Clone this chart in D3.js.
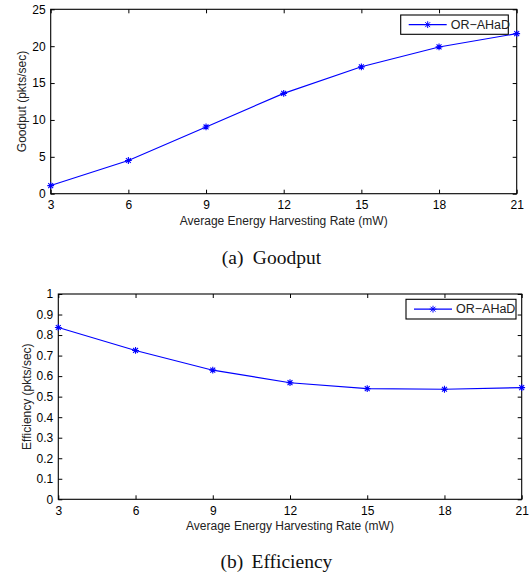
<!DOCTYPE html>
<html>
<head>
<meta charset="utf-8">
<script src="https://cdn.jsdelivr.net/npm/d3@7"></script>
<style>
  html, body { margin: 0; padding: 0; background: #fff; }
  svg { display: block; }
  .tick text { font-family: "Liberation Sans", Arial, sans-serif; font-size: 12px; fill: #000; }
  .lbl { font-family: "Liberation Sans", Arial, sans-serif; font-size: 12px; fill: #222; }
  .cap { font-family: "Liberation Serif", "Times New Roman", serif; font-size: 19.5px; fill: #111; }
</style>
</head>
<body>
<svg id="chart" width="531" height="574"></svg>
<script>
// energy harvesting rates (mW)
const rates = [3, 6, 9, 12, 15, 18, 21];
const xTicks = [3, 6, 9, 12, 15, 18, 21];

// OR-AHaD results
const goodput = [1.1, 4.5, 9.05, 13.6, 17.2, 19.9, 21.7];
const efficiency = [0.837, 0.725, 0.629, 0.568, 0.539, 0.536, 0.544];

const goodputTicks = [0, 5, 10, 15, 20, 25];
const efficiencyTicks = [0, 0.1, 0.2, 0.3, 0.4, 0.5, 0.6, 0.7, 0.8, 0.9, 1];

const seriesName = "OR\u2212AHaD";
const blue = "#0000ff";

const svg = d3.select("#chart");

// 8-armed star like matlab's '*'
function star(r) {
  const d = r * 0.72;
  return `M0,${-r}V${r}M${-r},0H${r}M${-d},${-d}L${d},${d}M${-d},${d}L${d},${-d}`;
}

function drawPanel(p) {
  const x = d3.scaleLinear().domain([3, 21]).range([p.left, p.right]);
  const y = d3.scaleLinear().domain(p.yDomain).range([p.bottom, p.top]);
  const g = svg.append("g");

  // ticks inward on all four sides
  g.append("g")
    .attr("transform", `translate(0,${p.bottom})`)
    .call(d3.axisBottom(x).tickValues(xTicks).tickSizeInner(-4).tickSizeOuter(0).tickPadding(7))
    .call(a => a.select(".domain").remove());
  g.append("g")
    .attr("transform", `translate(0,${p.top})`)
    .call(d3.axisTop(x).tickValues(xTicks).tickSizeInner(-4).tickSizeOuter(0).tickFormat(""))
    .call(a => a.select(".domain").remove());
  g.append("g")
    .attr("transform", `translate(${p.left},0)`)
    .call(d3.axisLeft(y).tickValues(p.yTicks).tickSizeInner(-4).tickSizeOuter(0).tickPadding(5).tickFormat(d3.format("~g")))
    .call(a => a.select(".domain").remove());
  g.append("g")
    .attr("transform", `translate(${p.right},0)`)
    .call(d3.axisRight(y).tickValues(p.yTicks).tickSizeInner(-4).tickSizeOuter(0).tickFormat(""))
    .call(a => a.select(".domain").remove());
  g.selectAll(".tick line").attr("stroke", "#000");

  g.append("rect")
    .attr("x", p.left).attr("y", p.top)
    .attr("width", p.right - p.left).attr("height", p.bottom - p.top)
    .attr("fill", "none").attr("stroke", "#000").attr("stroke-width", 1.1);

  const line = d3.line().x((d, i) => x(rates[i])).y(d => y(d));
  g.append("path")
    .datum(p.values)
    .attr("d", line)
    .attr("fill", "none").attr("stroke", blue).attr("stroke-width", 1.1);

  g.selectAll(".mk")
    .data(p.values)
    .enter().append("path")
    .attr("class", "mk")
    .attr("transform", (d, i) => `translate(${x(rates[i])},${y(d)})`)
    .attr("d", star(3.4))
    .attr("stroke", blue).attr("stroke-width", 1.1).attr("fill", "none");

  // axis labels
  g.append("text").attr("class", "lbl")
    .attr("x", (p.left + p.right) / 2).attr("y", p.bottom + 31)
    .attr("text-anchor", "middle")
    .text("Average Energy Harvesting Rate (mW)");
  g.append("text").attr("class", "lbl")
    .attr("transform", `translate(${p.yLabelX},${(p.top + p.bottom) / 2}) rotate(-90)`)
    .attr("text-anchor", "middle")
    .text(p.yLabel);

  // legend
  const lg = p.legend;
  g.append("rect")
    .attr("x", lg.x).attr("y", lg.y).attr("width", lg.w).attr("height", lg.h)
    .attr("fill", "#fff").attr("stroke", "#000").attr("stroke-width", 1.1);
  g.append("line")
    .attr("x1", lg.x + 8).attr("x2", lg.x + 46)
    .attr("y1", lg.y + lg.h / 2).attr("y2", lg.y + lg.h / 2)
    .attr("stroke", blue).attr("stroke-width", 1.1);
  g.append("path")
    .attr("transform", `translate(${lg.x + 27},${lg.y + lg.h / 2})`)
    .attr("d", star(3.4)).attr("stroke", blue).attr("fill", "none");
  g.append("text").attr("class", "lbl")
    .attr("x", lg.x + 50).attr("y", lg.y + lg.h / 2 + 4.3)
    .style("font-size", "12.5px")
    .text(seriesName);

  // caption
  const cap = g.append("text").attr("class", "cap")
    .attr("y", p.capY);
  cap.append("tspan").attr("x", p.capX).text(p.capTag);
  cap.append("tspan").attr("x", p.capX + 31).text(p.capText);
}

drawPanel({
  left: 50.7, right: 516.7, top: 9.3, bottom: 193.7,
  yDomain: [0, 25], yTicks: goodputTicks, values: goodput,
  yLabel: "Goodput (pkts/sec)", yLabelX: 26,
  legend: { x: 400.7, y: 15, w: 107.6, h: 19.3 },
  capTag: "(a)", capText: "Goodput", capX: 221.8, capY: 263.5
});

drawPanel({
  left: 58.3, right: 521.7, top: 294, bottom: 499.3,
  yDomain: [0, 1], yTicks: efficiencyTicks, values: efficiency,
  yLabel: "Efficiency (pkts/sec)", yLabelX: 31,
  legend: { x: 406, y: 299.3, w: 110, h: 19.7 },
  capTag: "(b)", capText: "Efficiency", capX: 220.5, capY: 568
});
</script>
</body>
</html>
